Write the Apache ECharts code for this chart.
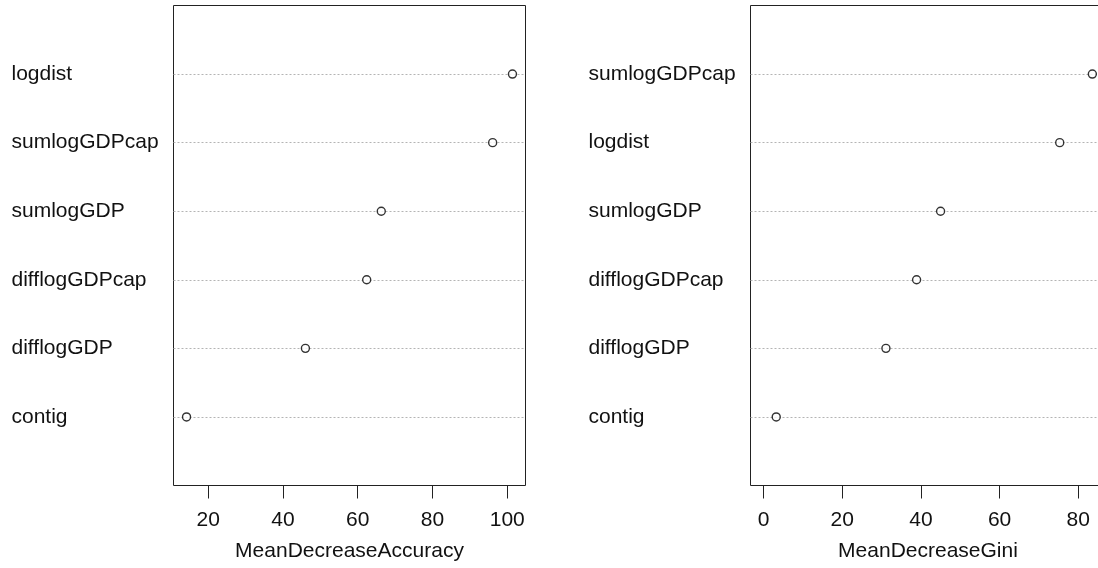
<!DOCTYPE html>
<html>
<head>
<meta charset="utf-8">
<script src="https://cdn.jsdelivr.net/npm/echarts@6/dist/echarts.min.js"></script>
<style>
    html, body { margin: 0; padding: 0; background: #fff; }
    #chart { width: 1098px; height: 568px; }
</style>
</head>
<body>
<div id="chart"></div>
<script>
// bottom row first, like R dotchart
const accNames = ['contig', 'difflogGDP', 'difflogGDPcap', 'sumlogGDP', 'sumlogGDPcap', 'logdist'];
const accValues = [14.2, 46.0, 62.4, 66.3, 96.1, 101.4];
const accTicks = [20, 40, 60, 80, 100];

const giniNames = ['contig', 'difflogGDP', 'difflogGDPcap', 'sumlogGDP', 'logdist', 'sumlogGDPcap'];
const giniValues = [3.2, 31.1, 38.9, 45.0, 75.3, 83.6];
const giniTicks = [0, 20, 40, 60, 80];

const FONT = 'Liberation Sans, Arial, sans-serif';
const TEXT = '#111';

// R pads the axis range by 4% on each side
function padRange(lo, hi) {
    const d = (hi - lo) * 0.04;
    return [lo - d, hi + d];
}

function panel(idx, names, values, ticks, lo, title) {
    const [min, max] = padRange(lo, Math.max.apply(null, values));
    const xAxis = {
        gridIndex: idx,
        type: 'value',
        min: min,
        max: max,
        name: title,
        nameLocation: 'middle',
        nameGap: 55,
        nameTextStyle: { fontFamily: FONT, fontSize: 21, color: TEXT },
        axisLine: { show: false },
        splitLine: { show: false },
        axisTick: {
            show: true,
            length: 13,
            customValues: ticks,
            lineStyle: { color: '#222', width: 1 }
        },
        axisLabel: {
            customValues: ticks,
            margin: 24,
            fontFamily: FONT,
            fontSize: 21,
            color: TEXT
        }
    };
    const yAxis = {
        gridIndex: idx,
        type: 'category',
        boundaryGap: false,
        data: [''].concat(names, ['']),
        axisLine: { show: false },
        axisTick: { show: false },
        axisLabel: {
            interval: 0,
            align: 'left',
            margin: 162,
            fontFamily: FONT,
            fontSize: 21,
            color: TEXT
        },
        splitLine: {
            show: true,
            interval: function (i, v) { return v !== ''; },
            lineStyle: { color: '#b4b4b4', width: 1, type: [2, 2] }
        }
    };
    const series = {
        type: 'scatter',
        xAxisIndex: idx,
        yAxisIndex: idx,
        symbol: 'circle',
        symbolSize: 8,
        itemStyle: { color: '#fff', borderColor: '#000', borderWidth: 1.4 },
        silent: true,
        data: values.map((v, i) => [v, i + 1])
    };
    return { xAxis, yAxis, series };
}

const left = panel(0, accNames, accValues, accTicks, Math.min.apply(null, accValues), 'MeanDecreaseAccuracy');
const right = panel(1, giniNames, giniValues, giniTicks, 0, 'MeanDecreaseGini');

const chart = echarts.init(document.getElementById('chart'), null, { renderer: 'canvas' });
chart.setOption({
    animation: false,
    backgroundColor: '#fff',
    grid: [
        { left: 173.5, top: 5.5, width: 352, height: 480, outerBoundsMode: 'none', containLabel: false,
          show: true, borderColor: '#222', borderWidth: 1, backgroundColor: 'transparent' },
        { left: 750.5, top: 5.5, width: 355, height: 480, outerBoundsMode: 'none', containLabel: false,
          show: true, borderColor: '#222', borderWidth: 1, backgroundColor: 'transparent' }
    ],
    xAxis: [left.xAxis, right.xAxis],
    yAxis: [left.yAxis, right.yAxis],
    series: [left.series, right.series]
});
</script>
</body>
</html>
